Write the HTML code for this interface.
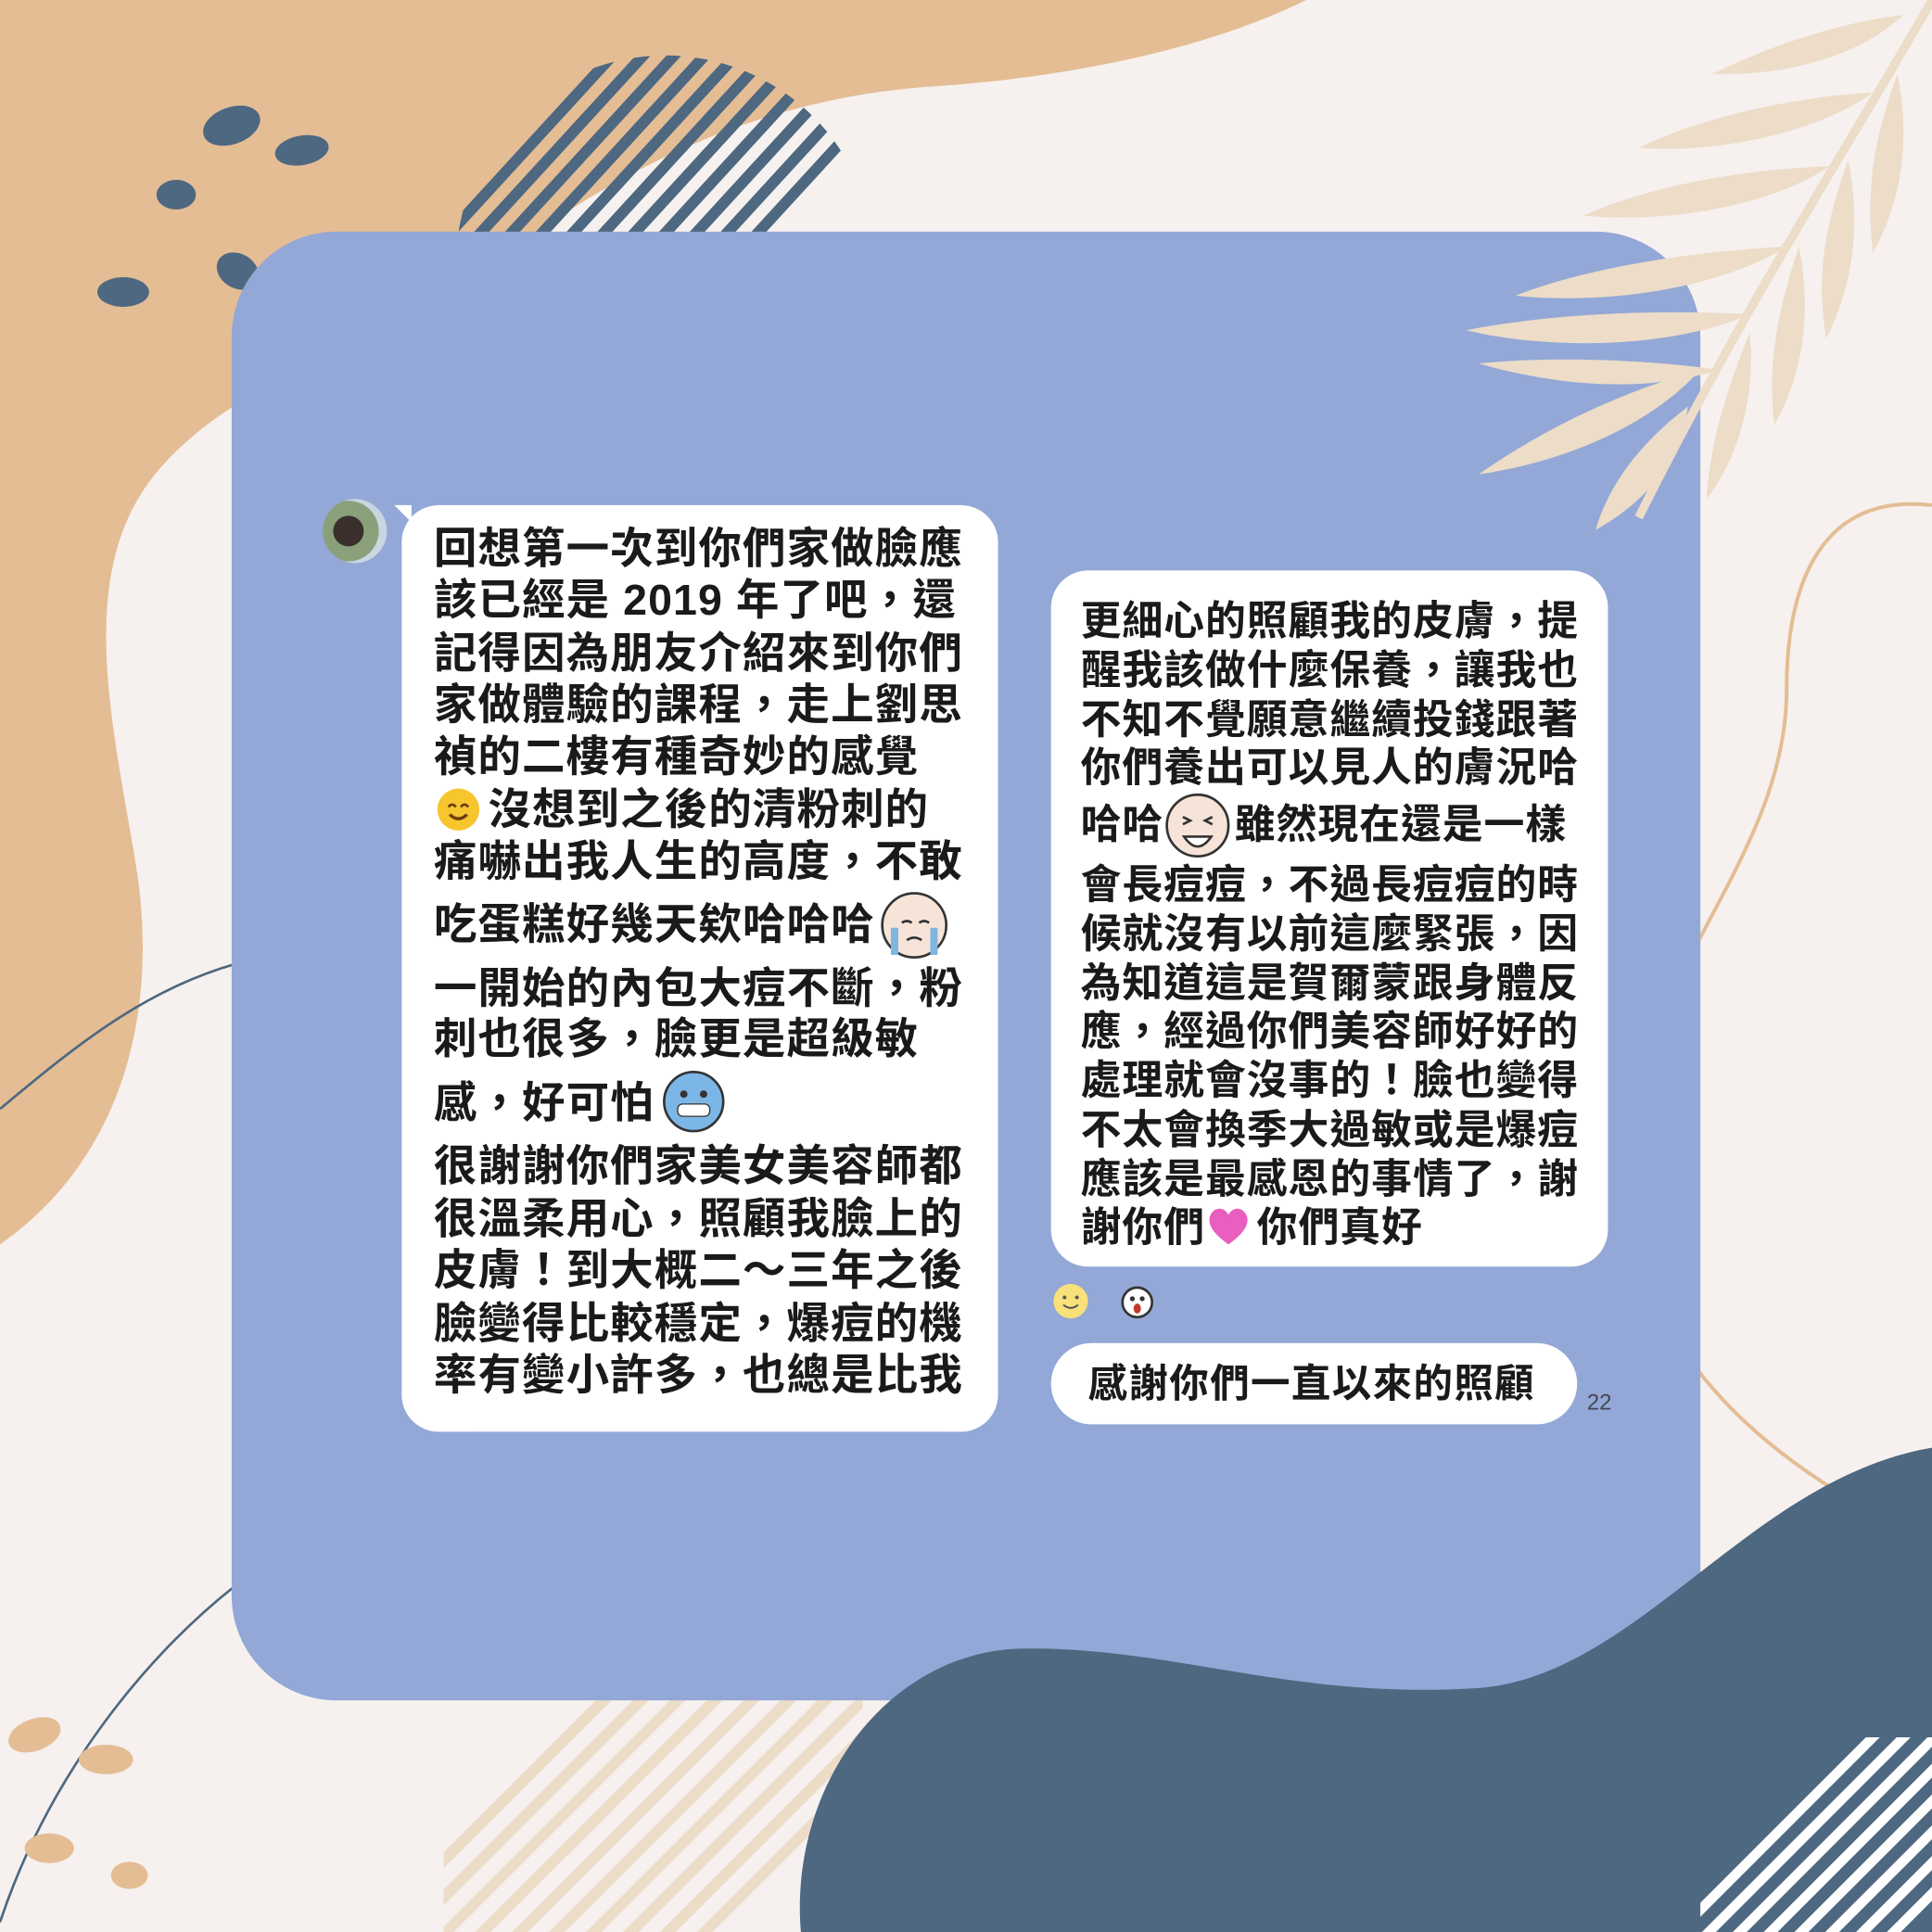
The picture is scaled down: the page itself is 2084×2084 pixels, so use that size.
<!DOCTYPE html>
<html><head><meta charset="utf-8"><style>
html,body{margin:0;padding:0;background:#f6f1ee;overflow:hidden}
#root{position:absolute;left:0;top:0;width:1568px;height:1568px;transform:scale(1.32908);transform-origin:0 0;overflow:hidden;background:#f6f1ee}
.t{position:absolute;white-space:nowrap;font-family:"Liberation Sans","Noto Sans CJK TC",sans-serif;font-weight:700;color:#1a1a1a;line-height:1}
.l{font-size:35px;left:352px;letter-spacing:0.8px}
.r{font-size:33px;left:877px;letter-spacing:0.7px}
.bub{position:absolute;background:#fff;border-radius:30px}
svg.e{position:absolute}
</style></head><body>
<div id="root">
<svg width="1568" height="1568" style="position:absolute;left:0;top:0">
  <defs>
    <clipPath id="c1"><circle cx="540" cy="215" r="170"/></clipPath>
    <clipPath id="c2"><rect x="360" y="1380" width="340" height="188"/></clipPath>
    <clipPath id="c3"><rect x="1380" y="1410" width="188" height="158"/></clipPath>
  </defs>
  <path d="M0 0 H1060 C1000 30 900 60 760 70 C600 80 480 150 380 230 C300 290 200 300 130 380 C60 460 90 580 110 700 C130 820 100 940 0 1010 Z" fill="#e4bd95"/>
  <g clip-path="url(#c1)">
    <g stroke="#4d6880" stroke-width="9">
      <line x1="300" y1="260" x2="520" y2="20"/><line x1="325" y1="260" x2="545" y2="20"/><line x1="350" y1="260" x2="570" y2="20"/><line x1="375" y1="260" x2="595" y2="20"/><line x1="400" y1="260" x2="620" y2="20"/><line x1="425" y1="260" x2="645" y2="20"/><line x1="450" y1="260" x2="670" y2="20"/><line x1="475" y1="260" x2="695" y2="20"/><line x1="500" y1="260" x2="720" y2="20"/><line x1="525" y1="260" x2="745" y2="20"/><line x1="550" y1="260" x2="770" y2="20"/>
    </g>
  </g>
  <g fill="#4d6880">
    <ellipse cx="188" cy="102" rx="24" ry="15" transform="rotate(-20 188 102)"/>
    <ellipse cx="245" cy="122" rx="22" ry="12" transform="rotate(-10 245 122)"/>
    <ellipse cx="143" cy="158" rx="16" ry="12"/>
    <ellipse cx="193" cy="220" rx="18" ry="14" transform="rotate(30 193 220)"/>
    <ellipse cx="268" cy="215" rx="15" ry="11"/>
    <ellipse cx="100" cy="237" rx="21" ry="12"/>
  </g>
  <path d="M0 900 C60 850 120 800 200 780" stroke="#4d6880" stroke-width="2" fill="none"/>
  <path d="M0 1560 C40 1440 120 1340 200 1280" stroke="#4d6880" stroke-width="2" fill="none"/>
  <path d="M1568 410 C1480 400 1450 470 1450 560 C1450 700 1320 800 1320 950 C1320 1100 1450 1200 1568 1250" stroke="#e4bd95" stroke-width="3" fill="none"/>
  <g clip-path="url(#c2)" stroke="#ecdcc8" stroke-width="9">
    <line x1="340" y1="1620" x2="620" y2="1340"/><line x1="370" y1="1620" x2="650" y2="1340"/><line x1="400" y1="1620" x2="680" y2="1340"/><line x1="430" y1="1620" x2="710" y2="1340"/><line x1="460" y1="1620" x2="740" y2="1340"/><line x1="490" y1="1620" x2="770" y2="1340"/><line x1="520" y1="1620" x2="800" y2="1340"/><line x1="310" y1="1620" x2="590" y2="1340"/><line x1="280" y1="1620" x2="560" y2="1340"/><line x1="250" y1="1620" x2="530" y2="1340"/>
  </g>
  <g fill="#e4bd95">
    <ellipse cx="28" cy="1408" rx="22" ry="13" transform="rotate(-20 28 1408)"/>
    <ellipse cx="86" cy="1428" rx="22" ry="12"/>
    <ellipse cx="40" cy="1500" rx="20" ry="12"/>
    <ellipse cx="105" cy="1522" rx="15" ry="11"/>
  </g>
</svg>
<div style="position:absolute;left:188px;top:188px;width:1192px;height:1192px;border-radius:85px;background:#93a8d6"></div>
<svg width="1568" height="1568" style="position:absolute;left:0;top:0">
  <path d="M650 1568 C640 1450 720 1340 830 1338 C950 1336 1050 1380 1200 1370 C1330 1360 1420 1200 1568 1175 V1568 Z" fill="#4d6880"/>
  <g clip-path="url(#c3)" stroke="#fff" stroke-width="8">
    <line x1="1360" y1="1620" x2="1580" y2="1400"/><line x1="1385" y1="1620" x2="1605" y2="1400"/><line x1="1410" y1="1620" x2="1630" y2="1400"/><line x1="1435" y1="1620" x2="1655" y2="1400"/><line x1="1460" y1="1620" x2="1680" y2="1400"/><line x1="1485" y1="1620" x2="1705" y2="1400"/><line x1="1335" y1="1620" x2="1555" y2="1400"/><line x1="1310" y1="1620" x2="1530" y2="1400"/>
  </g>
  <g fill="#ecdcc8">
    <path d="M1568 0 C1500 120 1420 240 1330 420" stroke="#ecdcc8" stroke-width="7" fill="none"/>
    <path d="M1545 12 C1480 20 1420 45 1390 60 C1450 62 1510 45 1545 12Z"/>
    <path d="M1520 75 C1440 80 1370 100 1330 120 C1400 125 1480 105 1520 75Z"/>
    <path d="M1485 135 C1400 138 1330 155 1285 175 C1360 182 1440 165 1485 135Z"/>
    <path d="M1450 200 C1360 205 1280 220 1230 240 C1310 248 1400 232 1450 200Z"/>
    <path d="M1420 255 C1320 250 1240 258 1190 268 C1260 285 1360 282 1420 255Z"/>
    <path d="M1395 300 C1320 290 1250 290 1200 295 C1270 315 1340 318 1395 300Z"/>
    <path d="M1380 300 C1310 320 1250 350 1200 385 C1270 375 1340 345 1380 300Z"/>
    <path d="M1370 330 C1330 360 1305 395 1295 430 C1340 405 1365 370 1370 330Z"/>
    <path d="M1420 270 C1400 320 1388 360 1385 405 C1412 370 1425 320 1420 270Z"/>
    <path d="M1460 200 C1440 260 1435 300 1440 345 C1465 300 1470 250 1460 200Z"/>
    <path d="M1500 130 C1478 190 1475 230 1482 275 C1505 230 1510 180 1500 130Z"/>
    <path d="M1540 60 C1518 120 1515 160 1520 205 C1545 160 1550 110 1540 60Z"/>
  </g>
</svg>
<div style="position:absolute;left:262px;top:405px;width:52px;height:52px;border-radius:50%;background:radial-gradient(circle at 40% 50%,#3a2f2a 0 30%,#8aa07a 31% 60%,#c9d5e0 61%)"></div>
<div class="bub" style="left:326px;top:410px;width:484px;height:752px"></div>
<div style="position:absolute;left:320px;top:410px;width:0;height:0;border-top:14px solid #fff;border-left:14px solid transparent"></div>
<div class="t l" style="top:428px">回想第一次到你們家做臉應</div>
<div class="t l" style="top:470px">該已經是 2019 年了吧，還</div>
<div class="t l" style="top:513px">記得因為朋友介紹來到你們</div>
<div class="t l" style="top:555px">家做體驗的課程，走上劉思</div>
<div class="t l" style="top:597px">禎的二樓有種奇妙的感覺</div>
<div class="t l" style="top:640px;left:396px">沒想到之後的清粉刺的</div>
<div class="t l" style="top:682px">痛嚇出我人生的高度，不敢</div>
<div class="t l" style="top:733px">吃蛋糕好幾天欸哈哈哈</div>
<div class="t l" style="top:785px">一開始的內包大痘不斷，粉</div>
<div class="t l" style="top:826px">刺也很多，臉更是超級敏</div>
<div class="t l" style="top:878px">感，好可怕</div>
<div class="t l" style="top:929px">很謝謝你們家美女美容師都</div>
<div class="t l" style="top:972px">很溫柔用心，照顧我臉上的</div>
<div class="t l" style="top:1014px">皮膚！到大概二～三年之後</div>
<div class="t l" style="top:1057px">臉變得比較穩定，爆痘的機</div>
<div class="t l" style="top:1099px">率有變小許多，也總是比我</div>
<svg class="e" style="left:354px;top:639px" width="36" height="36"><circle cx="18" cy="18" r="17" fill="#f7c52e"/><path d="M10 16 q3-4 6 0 M20 16 q3-4 6 0" stroke="#6b3e10" stroke-width="2" fill="none"/><path d="M11 22 q7 7 14 0" stroke="#6b3e10" stroke-width="2.5" fill="none"/></svg>
<svg class="e" style="left:714px;top:723px" width="56" height="56"><circle cx="28" cy="28" r="26" fill="#f6e4d8" stroke="#333" stroke-width="2"/><path d="M12 30 v22 M44 30 v22" stroke="#7fb6e0" stroke-width="6"/><path d="M18 26 q4-3 8 0 M32 26 q4-3 8 0 M22 40 q6-4 12 0" stroke="#333" stroke-width="2" fill="none"/></svg>
<svg class="e" style="left:537px;top:868px" width="52" height="52"><circle cx="26" cy="26" r="24" fill="#7cb6e6" stroke="#333" stroke-width="2"/><rect x="13" y="28" width="26" height="10" rx="4" fill="#fff" stroke="#333"/><circle cx="18" cy="20" r="3" fill="#333"/><circle cx="34" cy="20" r="3" fill="#333"/></svg>

<div class="bub" style="left:853px;top:463px;width:452px;height:565px"></div>
<div class="t r" style="top:487px">更細心的照顧我的皮膚，提</div>
<div class="t r" style="top:527px">醒我該做什麼保養，讓我也</div>
<div class="t r" style="top:567px">不知不覺願意繼續投錢跟著</div>
<div class="t r" style="top:606px">你們養出可以見人的膚況哈</div>
<div class="t r" style="top:652px">哈哈</div>
<div class="t r" style="top:652px;left:1002px">雖然現在還是一樣</div>
<div class="t r" style="top:701px">會長痘痘，不過長痘痘的時</div>
<div class="t r" style="top:741px">候就沒有以前這麼緊張，因</div>
<div class="t r" style="top:781px">為知道這是賀爾蒙跟身體反</div>
<div class="t r" style="top:820px">應，經過你們美容師好好的</div>
<div class="t r" style="top:860px">處理就會沒事的！臉也變得</div>
<div class="t r" style="top:900px">不太會換季大過敏或是爆痘</div>
<div class="t r" style="top:940px">應該是最感恩的事情了，謝</div>
<div class="t r" style="top:979px">謝你們</div>
<div class="t r" style="top:979px;left:1020px">你們真好</div>
<svg class="e" style="left:945px;top:643px" width="54" height="54"><circle cx="27" cy="27" r="25" fill="#f6e4d8" stroke="#333" stroke-width="2"/><path d="M16 36 q11 16 22 0 z" fill="#fff" stroke="#333" stroke-width="2"/><path d="M15 20 l6 3 -6 3 M39 20 l-6 3 6 3" stroke="#333" stroke-width="2" fill="none"/></svg>
<svg class="e" style="left:979px;top:978px" width="36" height="34"><path d="M18 32 C4 22 0 14 4 7 C8 1 15 2 18 8 C21 2 28 1 32 7 C36 14 32 22 18 32Z" fill="#e85fc0"/></svg>
<svg class="e" style="left:854px;top:1041px" width="30" height="30"><circle cx="15" cy="15" r="14" fill="#f8e07a"/><circle cx="10" cy="12" r="1.5" fill="#555"/><circle cx="20" cy="12" r="1.5" fill="#555"/><path d="M9 18 q6 5 12 0" stroke="#555" stroke-width="1.5" fill="none"/></svg>
<svg class="e" style="left:909px;top:1043px" width="28" height="28"><circle cx="14" cy="14" r="12" fill="#fff" stroke="#333" stroke-width="2"/><circle cx="10" cy="11" r="2" fill="#333"/><circle cx="18" cy="11" r="2" fill="#333"/><ellipse cx="14" cy="19" rx="3" ry="4" fill="#c0392b"/></svg>
<div class="bub" style="left:853px;top:1090px;width:427px;height:66px;border-radius:33px"></div>
<div class="t" style="left:883px;top:1107px;font-size:32px;letter-spacing:1px">感謝你們一直以來的照顧</div>
<div class="t" style="left:1288px;top:1129px;font-size:18px;font-weight:400;color:#445">22</div>
</div>
</body></html>
